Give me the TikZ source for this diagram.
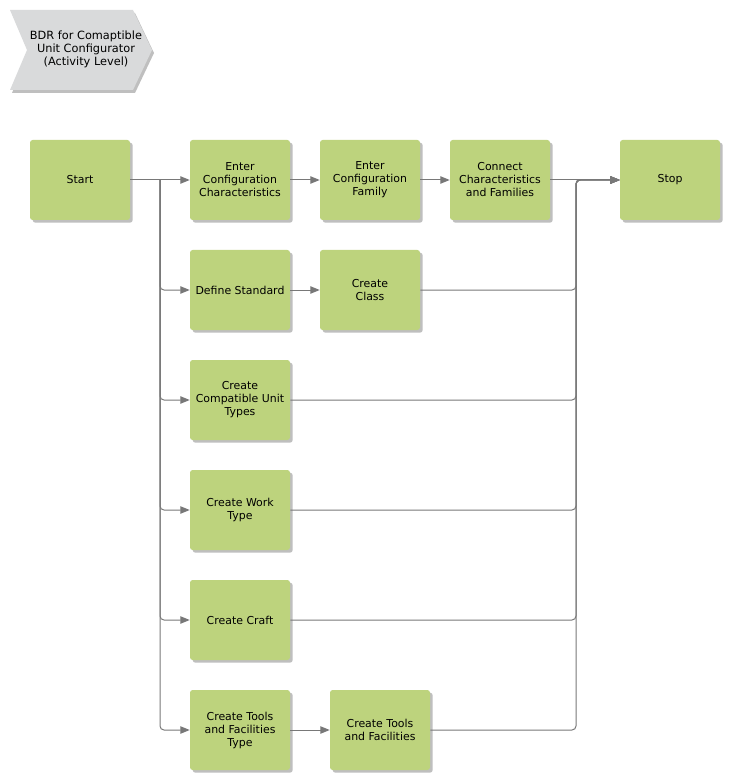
\documentclass[tikz,border=0pt]{standalone}
\usepackage{fontspec}
\setmainfont{DejaVu Sans}
\usepackage{tikz}
\usetikzlibrary{arrows.meta,shadows}
\definecolor{boxgreen}{RGB}{189,211,125}
\definecolor{titlegray}{RGB}{217,218,219}
\definecolor{linegray}{RGB}{120,120,120}
\tikzset{
  activity/.style={rectangle,rounded corners=2pt,fill=boxgreen,minimum width=75pt,minimum height=60pt,
    inner sep=1pt,align=center,font=\fontsize{8.2}{9.75}\selectfont,
    drop shadow={shadow xshift=2pt,shadow yshift=-2pt,fill=black!25,opacity=1}},
  flow/.style={draw=linegray,line width=0.75pt,rounded corners=3pt,-{Triangle[length=7pt,width=5.5pt]}},
  link/.style={draw=linegray,line width=0.75pt,rounded corners=3pt}
}
\begin{document}
\begin{tikzpicture}[x=0.75pt,y=-0.75pt]
\useasboundingbox (0,0) rectangle (730,780);
% Title
\fill[black!25] (12,13) -- (135,13) -- (154,53) -- (135,93) -- (12,93) -- (29,53) -- cycle;
\fill[titlegray] (10,10) -- (133,10) -- (152,50) -- (133,90) -- (10,90) -- (27,50) -- cycle;
\node at (86,49) [align=center,font=\fontsize{8.5}{9.75}\selectfont] (Title) {BDR for Comaptible\\Unit Configurator\\(Activity Level)};
% Activities
\node at (80,180) [activity] (Start) {Start};
\node at (240,180) [activity] (EnterChar) {Enter\\Configuration\\Characteristics};
\node at (370,180) [activity] (EnterFam) {Enter\\Configuration\\Family};
\node at (500,180) [activity] (Connect) {Connect\\Characteristics\\and Families};
\node at (670,180) [activity] (Stop) {Stop};
\node at (240,290) [activity] (DefStd) {Define Standard};
\node at (370,290) [activity] (Class) {Create\\Class};
\node at (240,400) [activity] (CUTypes) {Create\\Compatible Unit\\Types};
\node at (240,510) [activity] (WorkType) {Create Work\\Type};
\node at (240,620) [activity] (Craft) {Create Craft};
\node at (240,730) [activity] (ToolsType) {Create Tools\\and Facilities\\Type};
\node at (380,730) [activity] (Tools) {Create Tools\\and Facilities};
% Branch points
\coordinate (Split) at (160,180);
\coordinate (Join) at (576,180);
% Connections
\draw [link] (Start.east) -- (Split);
\draw [flow] (Split) -- (EnterChar.west);
\draw [flow] (EnterChar) -- (EnterFam);
\draw [flow] (EnterFam) -- (Connect);
\draw [flow] (Connect) -- (Stop);
\draw [flow] (Split) |- (DefStd.west);
\draw [flow] (Split) |- (CUTypes.west);
\draw [flow] (Split) |- (WorkType.west);
\draw [flow] (Split) |- (Craft.west);
\draw [flow] (Split) |- (ToolsType.west);
\draw [flow] (DefStd) -- (Class);
\draw [flow] (ToolsType) -- (Tools);
\draw [flow] (Class.east) -| (Join) -- (Stop.west);
\draw [flow] (CUTypes.east) -| (Join) -- (Stop.west);
\draw [flow] (WorkType.east) -| (Join) -- (Stop.west);
\draw [flow] (Craft.east) -| (Join) -- (Stop.west);
\draw [flow] (Tools.east) -| (Join) -- (Stop.west);
\end{tikzpicture}
\end{document}
